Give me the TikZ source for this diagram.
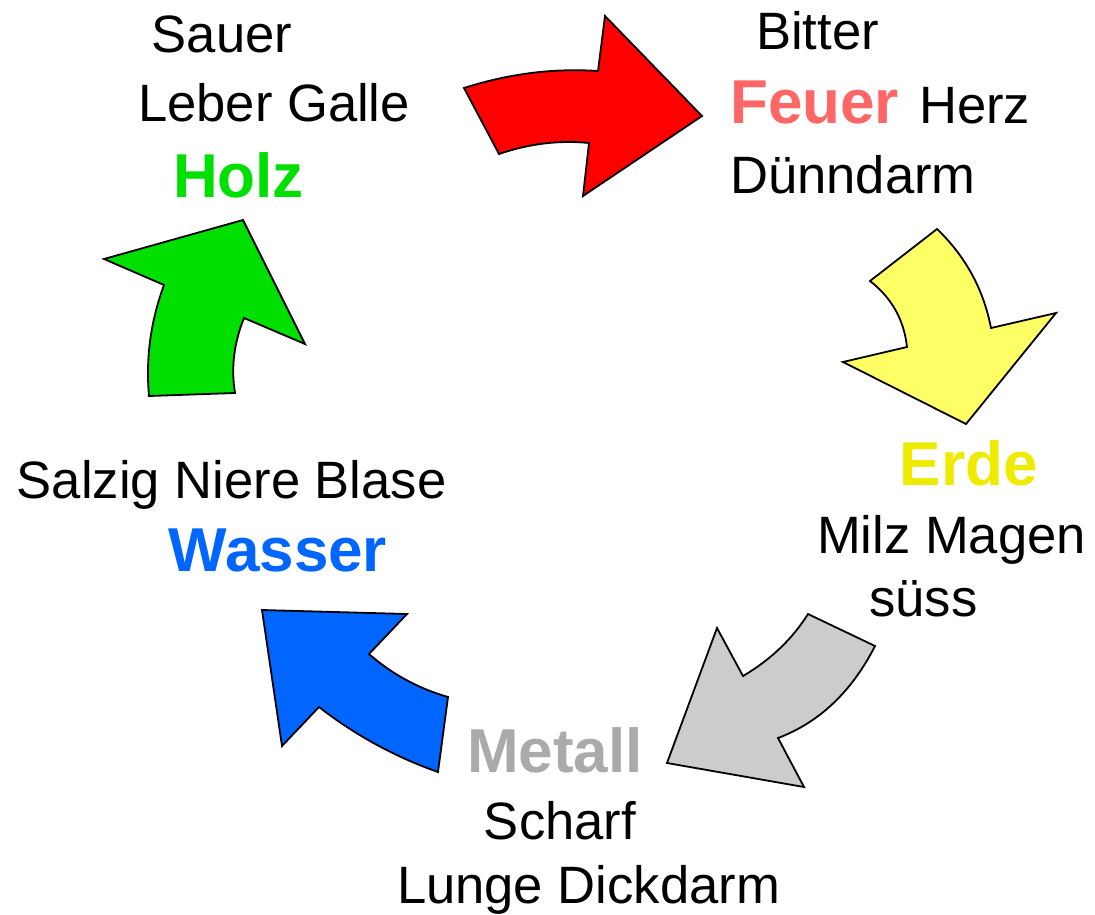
\documentclass[tikz,border=0pt]{standalone}
\usepackage{fontspec}
\setmainfont{Liberation Sans}
\definecolor{holzgreen}{HTML}{00E000}
\definecolor{feuerred}{HTML}{FF6666}
\definecolor{erdeyellow}{HTML}{EEEA00}
\definecolor{metallgray}{HTML}{AAAAAA}
\definecolor{wasserblue}{HTML}{0066FF}
\definecolor{arrowyellow}{HTML}{FFFF66}
\definecolor{arrowgray}{HTML}{CCCCCC}
\begin{document}
\begin{tikzpicture}[x=1pt, y=-1pt,
    txt/.style={anchor=base, inner sep=0pt, font=\fontsize{52.6}{60}\selectfont},
    elem/.style={anchor=base, inner sep=0pt, font=\fontsize{62}{70}\selectfont\bfseries},
    bow/.style={draw=black, line width=1.8pt, line join=miter}]
    \useasboundingbox (0,0) rectangle (1095,914);

    % Holz
    \node[txt] (sauer) at (222,52) {Sauer};
    \node[txt] (leber) at (274,121) {Leber Galle};
    \node[elem, text=holzgreen] (holz) at (238.5,197.5) {Holz};

    % Feuer
    \node[txt] (bitter) at (817.5,49) {Bitter};
    \node[elem, text=feuerred, anchor=base west] (feuer) at (730,123.3) {Feuer};
    \node[txt, anchor=base west] (herz) at (919,123.3) {Herz};
    \node[txt] (duenn) at (853,193.3) {Dünndarm};

    % Erde
    \node[elem, text=erdeyellow] (erde) at (968.7,485.7) {Erde};
    \node[txt] (milz) at (951.5,553.3) {Milz Magen};
    \node[txt] (suess) at (923.5,616.7) {süss};

    % Metall
    \node[elem, text=metallgray] (metall) at (555,772.3) {Metall};
    \node[txt] (scharf) at (560,839) {Scharf};
    \node[txt] (lunge) at (588.5,903.3) {Lunge Dickdarm};

    % Wasser
    \node[txt] (salzig) at (231.7,498.3) {Salzig Niere Blase};
    \node[elem, text=wasserblue] (wasser) at (278,571.7) {Wasser};

    % Draw the arrows
    \draw[bow, fill=red] (464,88) .. controls (508.7,73.7) and (553.3,68) .. (598,71)
      -- (605,16) -- (702,116) -- (583,196) -- (589,143)
      .. controls (559,140) and (529,143.7) .. (499,154) -- cycle;
    \draw[bow, fill=arrowyellow] (937,229) -- (870,281)
      .. controls (891.7,297.8) and (904,319.8) .. (907,347)
      -- (843,362) -- (966,424) -- (1056,313) -- (991,328)
      .. controls (983.5,289.3) and (965.5,256.3) .. cycle;
    \draw[bow, fill=arrowgray] (808,614) -- (875,646)
      .. controls (851.7,691.7) and (819.3,722.4) .. (778,738)
      -- (804,787) -- (667,763) -- (717,628) -- (743,676)
      .. controls (770.7,659.7) and (792.3,639) .. cycle;
    \draw[bow, fill=wasserblue] (448,697) -- (438,772)
      .. controls (394.8,756.8) and (355.1,735.1) .. (319,707)
      -- (282,746) -- (262,610) -- (407,614) -- (369,654)
      .. controls (392.1,674.2) and (418.5,688.5) .. cycle;
    \draw[bow, fill=holzgreen] (149,396) -- (235,393)
      .. controls (230.9,368) and (233.9,343) .. (244,318)
      -- (305,344) -- (243,220) -- (104,259) -- (164,285)
      .. controls (150.6,321.3) and (145.6,358.3) .. cycle;
\end{tikzpicture}
\end{document}
